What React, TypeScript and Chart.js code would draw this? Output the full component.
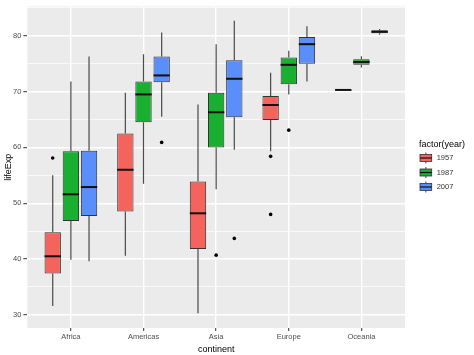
import { useEffect, useRef } from 'react';
import { Chart, registerables } from 'chart.js';

Chart.register(...registerables);

const continents = ['Africa', 'Americas', 'Asia', 'Europe', 'Oceania'];
const years = ['1957', '1987', '2007'];
const fillColors = ['#F5635D', '#19AF30', '#5A8EFA'];
const yTicks = [30, 35, 40, 45, 50, 55, 60, 65, 70, 75, 80, 85];

// 1957
const low1957 = [31.6, 40.6, 30.3, 59.3, 70.26];
const q1_1957 = [37.4, 48.5, 41.8, 64.9, 70.28];
const med1957 = [40.5, 56.0, 48.2, 67.6, 70.3];
const q3_1957 = [44.8, 62.5, 53.9, 69.2, 70.31];
const high1957 = [55.0, 69.8, 67.7, 73.4, 70.33];
const out1957 = [[58.1], [], [], [58.4, 48.0], []];

// 1987
const low1987 = [39.9, 53.5, 52.5, 69.5, 74.32];
const q1_1987 = [46.8, 64.5, 60.0, 71.3, 74.82];
const med1987 = [51.6, 69.5, 66.3, 74.8, 75.32];
const q3_1987 = [59.3, 71.8, 69.8, 76.1, 75.82];
const high1987 = [71.8, 76.7, 78.5, 77.3, 76.32];
const out1987 = [[], [], [40.7], [63.1], []];

// 2007
const low2007 = [39.6, 65.5, 59.6, 71.8, 80.2];
const q1_2007 = [47.7, 71.7, 65.4, 75.0, 80.46];
const med2007 = [52.9, 72.9, 72.3, 78.5, 80.72];
const q3_2007 = [59.4, 76.3, 75.6, 79.8, 80.98];
const high2007 = [76.3, 80.6, 82.7, 81.7, 81.2];
const out2007 = [[], [60.9], [43.7], [], []];

const stats = [
  { low: low1957, q1: q1_1957, med: med1957, q3: q3_1957, high: high1957, out: out1957 },
  { low: low1987, q1: q1_1987, med: med1987, q3: q3_1987, high: high1987, out: out1987 },
  { low: low2007, q1: q1_2007, med: med2007, q3: q3_2007, high: high2007, out: out2007 },
];

const FONT = "'Liberation Sans', Arial, sans-serif";

const panelBg = {
  id: 'panelBg',
  beforeDraw(chart: any) {
    const { ctx, chartArea: a } = chart;
    ctx.save();
    ctx.fillStyle = '#EBEBEB';
    ctx.fillRect(a.left, a.top, a.right - a.left, a.bottom - a.top);
    ctx.restore();
  },
};

const boxParts = {
  id: 'boxParts',
  beforeDatasetsDraw(chart: any) {
    const { ctx } = chart;
    const ys = chart.scales.y;
    ctx.save();
    ctx.strokeStyle = '#4a4a4a';
    ctx.lineWidth = 1.2;
    stats.forEach((s, i) => {
      const meta = chart.getDatasetMeta(i);
      meta.data.forEach((el: any, j: number) => {
        const x = el.x;
        ctx.beginPath();
        ctx.moveTo(x, ys.getPixelForValue(s.q3[j]));
        ctx.lineTo(x, ys.getPixelForValue(s.high[j]));
        ctx.moveTo(x, ys.getPixelForValue(s.q1[j]));
        ctx.lineTo(x, ys.getPixelForValue(s.low[j]));
        ctx.stroke();
      });
    });
    ctx.restore();
  },
  afterDatasetsDraw(chart: any) {
    const { ctx } = chart;
    const ys = chart.scales.y;
    ctx.save();
    stats.forEach((s, i) => {
      const meta = chart.getDatasetMeta(i);
      meta.data.forEach((el: any, j: number) => {
        const x = el.x;
        const w = el.width;
        const ym = ys.getPixelForValue(s.med[j]);
        ctx.strokeStyle = '#111';
        ctx.lineWidth = 2;
        ctx.beginPath();
        ctx.moveTo(x - w / 2, ym);
        ctx.lineTo(x + w / 2, ym);
        ctx.stroke();
        ctx.fillStyle = '#000';
        s.out[j].forEach((v: number) => {
          ctx.beginPath();
          ctx.arc(x, ys.getPixelForValue(v), 1.8, 0, Math.PI * 2);
          ctx.fill();
        });
      });
    });
    ctx.restore();
  },
};

const legendPlugin = {
  id: 'customLegend',
  afterDraw(chart: any) {
    const { ctx } = chart;
    ctx.save();
    ctx.fillStyle = '#000';
    ctx.font = `9px ${FONT}`;
    ctx.textAlign = 'left';
    ctx.textBaseline = 'middle';
    ctx.fillText('factor(year)', 419, 145);
    years.forEach((yr, i) => {
      const cy = 158 + i * 14.5;
      const x0 = 420;
      const w = 11.7;
      ctx.strokeStyle = '#4a4a4a';
      ctx.lineWidth = 1;
      ctx.beginPath();
      ctx.moveTo(x0 + w / 2, cy - 5.5);
      ctx.lineTo(x0 + w / 2, cy - 3.5);
      ctx.moveTo(x0 + w / 2, cy + 3.5);
      ctx.lineTo(x0 + w / 2, cy + 5.5);
      ctx.stroke();
      ctx.fillStyle = fillColors[i];
      ctx.fillRect(x0, cy - 3.5, w, 7);
      ctx.strokeStyle = '#333';
      ctx.lineWidth = 0.8;
      ctx.strokeRect(x0, cy - 3.5, w, 7);
      ctx.strokeStyle = '#111';
      ctx.lineWidth = 1.2;
      ctx.beginPath();
      ctx.moveTo(x0, cy);
      ctx.lineTo(x0 + w, cy);
      ctx.stroke();
      ctx.fillStyle = '#333';
      ctx.font = `7.5px ${FONT}`;
      ctx.fillText(yr, 436.7, cy);
    });
    ctx.restore();
  },
};

export default function App() {
  const ref = useRef<HTMLCanvasElement | null>(null);
  useEffect(() => {
    if (!ref.current) return;
    const datasets = years.map((yr, i) => ({
      label: yr,
      data: continents.map((_, j) => ({ x: j + 1, y: [stats[i].q1[j], stats[i].q3[j]] })),
      backgroundColor: fillColors[i],
      borderColor: '#333',
      borderWidth: 1,
      borderSkipped: false,
      categoryPercentage: 0.75,
      barPercentage: 0.9,
    }));
    const chart = new Chart(ref.current, {
      type: 'bar',
      data: { datasets } as any,
      options: {
        animation: false,
        responsive: false,
        events: [],
        layout: { padding: { top: 4, right: 69, left: 0, bottom: 0 } },
        plugins: { legend: { display: false }, tooltip: { enabled: false } },
        scales: {
          x: {
            type: 'linear',
            min: 0.4,
            max: 5.6,
            offset: false,
            afterBuildTicks: (scale: any) => {
              scale.ticks = continents.map((_, j) => ({ value: j + 1 }));
            },
            afterFit: (scale: any) => {
              scale.height = 27;
            },
            grid: {
              offset: false,
              color: '#ffffff',
              lineWidth: 1.4,
              tickColor: '#333',
              tickLength: 3,
              tickWidth: 1,
            },
            border: { display: false },
            ticks: {
              autoSkip: false,
              maxRotation: 0,
              padding: 1,
              color: '#4D4D4D',
              font: { family: FONT, size: 7.5 },
              callback: (v: any) => continents[Math.round(Number(v)) - 1] ?? '',
            },
            title: {
              display: true,
              text: 'continent',
              color: '#000',
              font: { family: FONT, size: 9 },
              padding: { top: 3.4, bottom: 0 },
            },
          },
          y: {
            type: 'linear',
            min: 27.65,
            max: 85.25,
            afterBuildTicks: (scale: any) => {
              scale.ticks = yTicks.map((v) => ({ value: v }));
            },
            afterFit: (scale: any) => {
              scale.width = 27.3;
            },
            grid: {
              color: '#ffffff',
              lineWidth: (c: any) => (c.tick && c.tick.value % 10 === 0 ? 1.4 : 0.7),
              tickColor: (c: any) => (c.tick && c.tick.value % 10 === 0 ? '#333' : 'rgba(0,0,0,0)'),
              tickLength: 4,
              tickWidth: 1,
            },
            border: { display: false },
            ticks: {
              padding: 2,
              color: '#4D4D4D',
              font: { family: FONT, size: 7.5 },
              callback: (v: any) => (Number(v) % 10 === 0 ? String(v) : ''),
            },
            title: {
              display: true,
              text: 'lifeExp',
              color: '#000',
              font: { family: FONT, size: 9 },
              padding: { top: 3.4, bottom: 0 },
            },
          },
        },
      } as any,
      plugins: [panelBg, boxParts, legendPlugin],
    });
    return () => chart.destroy();
  }, []);
  return (
    <div style={{ position: 'fixed', left: 0, top: 0, width: 474, height: 355, background: '#fff' }}>
      <canvas ref={ref} width={474} height={355} />
    </div>
  );
}
